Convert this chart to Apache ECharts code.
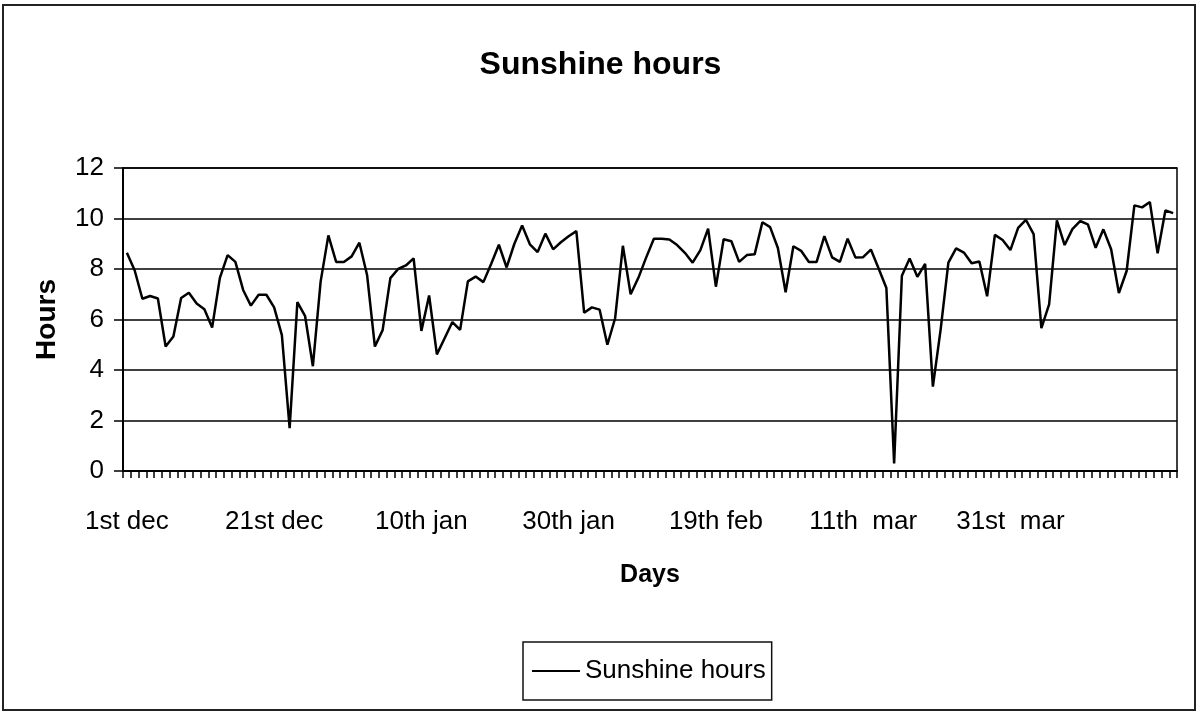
<!DOCTYPE html>
<html>
<head>
<meta charset="utf-8">
<script src="https://cdn.jsdelivr.net/npm/echarts@6/dist/echarts.min.js"></script>
<style>
html,body{margin:0;padding:0;background:#fff;}
#chart{width:1201px;height:722px;}
</style>
</head>
<body>
<div id="chart"></div>
<script>
const seriesName = 'Sunshine hours';
const sunshineHours = [
  8.64, 7.95, 6.82, 6.93, 6.83, 4.93, 5.33, 6.85, 7.06, 6.63,
  6.41, 5.68, 7.65, 8.55, 8.28, 7.17, 6.55, 6.98, 6.98, 6.48,
  5.38, 1.70, 6.69, 6.13, 4.15, 7.50, 9.33, 8.28, 8.28, 8.50,
  9.04, 7.75, 4.93, 5.58, 7.64, 8.00, 8.14, 8.42, 5.55, 6.95,
  4.62, 5.26, 5.90, 5.59, 7.51, 7.70, 7.48, 8.20, 8.96, 8.06,
  9.00, 9.72, 8.98, 8.67, 9.40, 8.78, 9.06, 9.30, 9.50, 6.27,
  6.48, 6.39, 5.00, 6.05, 8.92, 7.00, 7.65, 8.45, 9.20, 9.20,
  9.17, 8.95, 8.64, 8.25, 8.75, 9.60, 7.30, 9.18, 9.10, 8.28,
  8.55, 8.58, 9.85, 9.66, 8.83, 7.08, 8.90, 8.72, 8.28, 8.28,
  9.30, 8.46, 8.28, 9.20, 8.46, 8.47, 8.77, 8.02, 7.25, 0.30,
  7.73, 8.42, 7.69, 8.20, 3.34, 5.60, 8.25, 8.82, 8.65, 8.23,
  8.30, 6.92, 9.35, 9.15, 8.75, 9.63, 9.95, 9.38, 5.66, 6.60,
  9.93, 8.95, 9.58, 9.90, 9.77, 8.84, 9.57, 8.78, 7.05, 7.92,
  10.52, 10.44, 10.65, 8.62, 10.32, 10.21
];
const tickLabels = ['1st dec', '21st dec', '10th jan', '30th jan', '19th feb', '11th  mar', '31st  mar'];
const labelEvery = 19;
const yTicks = { min: 0, max: 12, interval: 2 };
const monthNames = ['dec', 'jan', 'feb', 'mar', 'apr'];
const monthLengths = [31, 31, 28, 31, 30];

const days = [];
(function () {
  let m = 0, d = 1;
  for (let i = 0; i < sunshineHours.length; i++) {
    days.push(d + ' ' + monthNames[m]);
    d++;
    if (d > monthLengths[m]) { d = 1; m++; }
  }
})();

const font = "'Liberation Sans', Arial, sans-serif";

const chart = echarts.init(document.getElementById('chart'), null, { renderer: 'canvas' });
chart.setOption({
  backgroundColor: '#ffffff',
  animation: false,
  title: {
    text: 'Sunshine hours',
    left: 'center',
    top: 44,
    textStyle: { fontFamily: font, fontSize: 32, fontWeight: 'bold', color: '#000' }
  },
  graphic: [{
    type: 'rect',
    shape: { x: 3, y: 5, width: 1192, height: 705 },
    style: { fill: 'none', stroke: '#222', lineWidth: 2 },
    silent: true
  }],
  legend: {
    data: [seriesName],
    left: 523,
    top: 642,
    orient: 'horizontal',
    padding: [16, 6, 16, 9],
    icon: 'rect',
    itemWidth: 48,
    itemHeight: 2,
    itemGap: 5,
    itemStyle: { color: '#000' },
    borderColor: '#111',
    borderWidth: 1.5,
    textStyle: { fontFamily: font, fontSize: 26, color: '#000' }
  },
  grid: {
    left: 123, right: 24, top: 168, bottom: 251,
    show: true, borderColor: '#000', borderWidth: 1.5,
    containLabel: false
  },
  xAxis: {
    type: 'category',
    data: days,
    boundaryGap: true,
    name: 'Days',
    nameLocation: 'middle',
    nameGap: 92,
    nameTextStyle: { fontFamily: font, fontSize: 25, fontWeight: 'bold', color: '#000' },
    axisLine: { lineStyle: { color: '#000', width: 2 } },
    axisTick: { show: true, interval: 0, length: 7, inside: false, lineStyle: { color: '#000', width: 1.5 } },
    axisLabel: {
      interval: labelEvery - 1,
      margin: 38,
      fontFamily: font, fontSize: 26, color: '#000',
      formatter: function (value, index) {
        const k = index / labelEvery;
        return Number.isInteger(k) && tickLabels[k] ? tickLabels[k] : '';
      }
    },
    splitLine: { show: false }
  },
  yAxis: {
    type: 'value',
    min: yTicks.min, max: yTicks.max, interval: yTicks.interval,
    name: 'Hours',
    nameLocation: 'middle',
    nameGap: 62,
    nameTextStyle: { fontFamily: font, fontSize: 28, fontWeight: 'bold', color: '#000' },
    axisLine: { show: true, lineStyle: { color: '#000', width: 2 } },
    axisTick: { show: true, length: 9, lineStyle: { color: '#000', width: 1.5 } },
    axisLabel: { margin: 19, fontFamily: font, fontSize: 26, color: '#000' },
    splitLine: { show: true, lineStyle: { color: '#000', width: 1.5 } }
  },
  series: [{
    name: seriesName,
    type: 'line',
    data: sunshineHours,
    symbol: 'none',
    showSymbol: false,
    lineStyle: { color: '#000', width: 2.5 },
    itemStyle: { color: '#000' }
  }]
});
</script>
</body>
</html>
